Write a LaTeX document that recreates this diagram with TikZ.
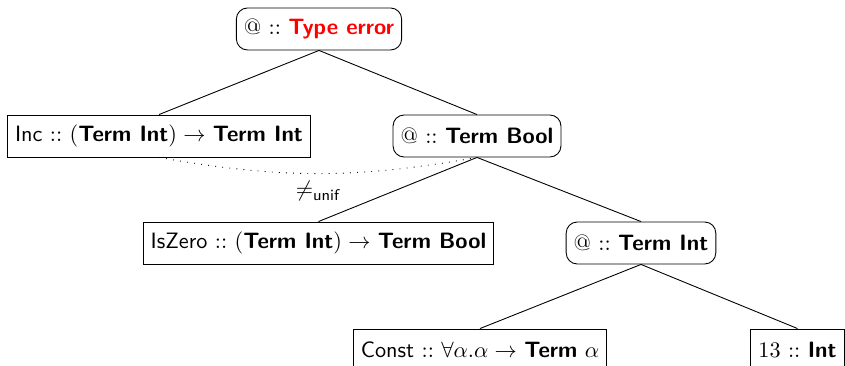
\documentclass[tikz,border=0pt]{standalone}
\usepackage{amsmath}
\usepackage{tikz}
\usetikzlibrary{positioning}

\begin{document}
\begin{tikzpicture}[
    x=0.45pt, y=-0.45pt,
    app/.style={draw, rounded corners=5pt, font=\sffamily, minimum height=18.9pt, inner sep=3.4pt},
    con/.style={draw, font=\sffamily, minimum height=18.9pt, inner sep=3.4pt},
    line/.style={thin}
  ]
    \useasboundingbox (0,0) rectangle (845,366);

    \node[app] (root) at (319,29) {$@$ $::$ \textcolor{red}{\textbf{Type error}}};
    \node[con] (inc) at (159,136) {Inc $::$ $($\textbf{Term Int}$)\rightarrow$ \textbf{Term Int}};
    \node[app] (bool) at (477,136) {$@$ $::$ \textbf{Term Bool}};
    \node[con] (iszero) at (318.5,243) {IsZero $::$ $($\textbf{Term Int}$)\rightarrow$ \textbf{Term Bool}};
    \node[app] (tint) at (641,243) {$@$ $::$ \textbf{Term Int}};
    \node[con] (const) at (480,350) {Const $::$ $\forall\alpha.\alpha\rightarrow$ \textbf{Term} $\alpha$};
    \node[con] (lit) at (797.5,350) {$13$ $::$ \textbf{Int}};

    \draw[line] (root.south) -- (inc.north);
    \draw[line] (root.south) -- (bool.north);
    \draw[line] (bool.south) -- (iszero.north);
    \draw[line] (bool.south) -- (tint.north);
    \draw[line] (tint.south) -- (const.north);
    \draw[line] (tint.south) -- (lit.north);

    % unification failure
    \draw[dash pattern=on 0.4pt off 2.8pt] (inc.south) to[bend right=10]
      node[below=0pt, font=\sffamily] (neq) {$\neq_{\textsf{unif}}$} (bool.south);
  \end{tikzpicture}
\end{document}
